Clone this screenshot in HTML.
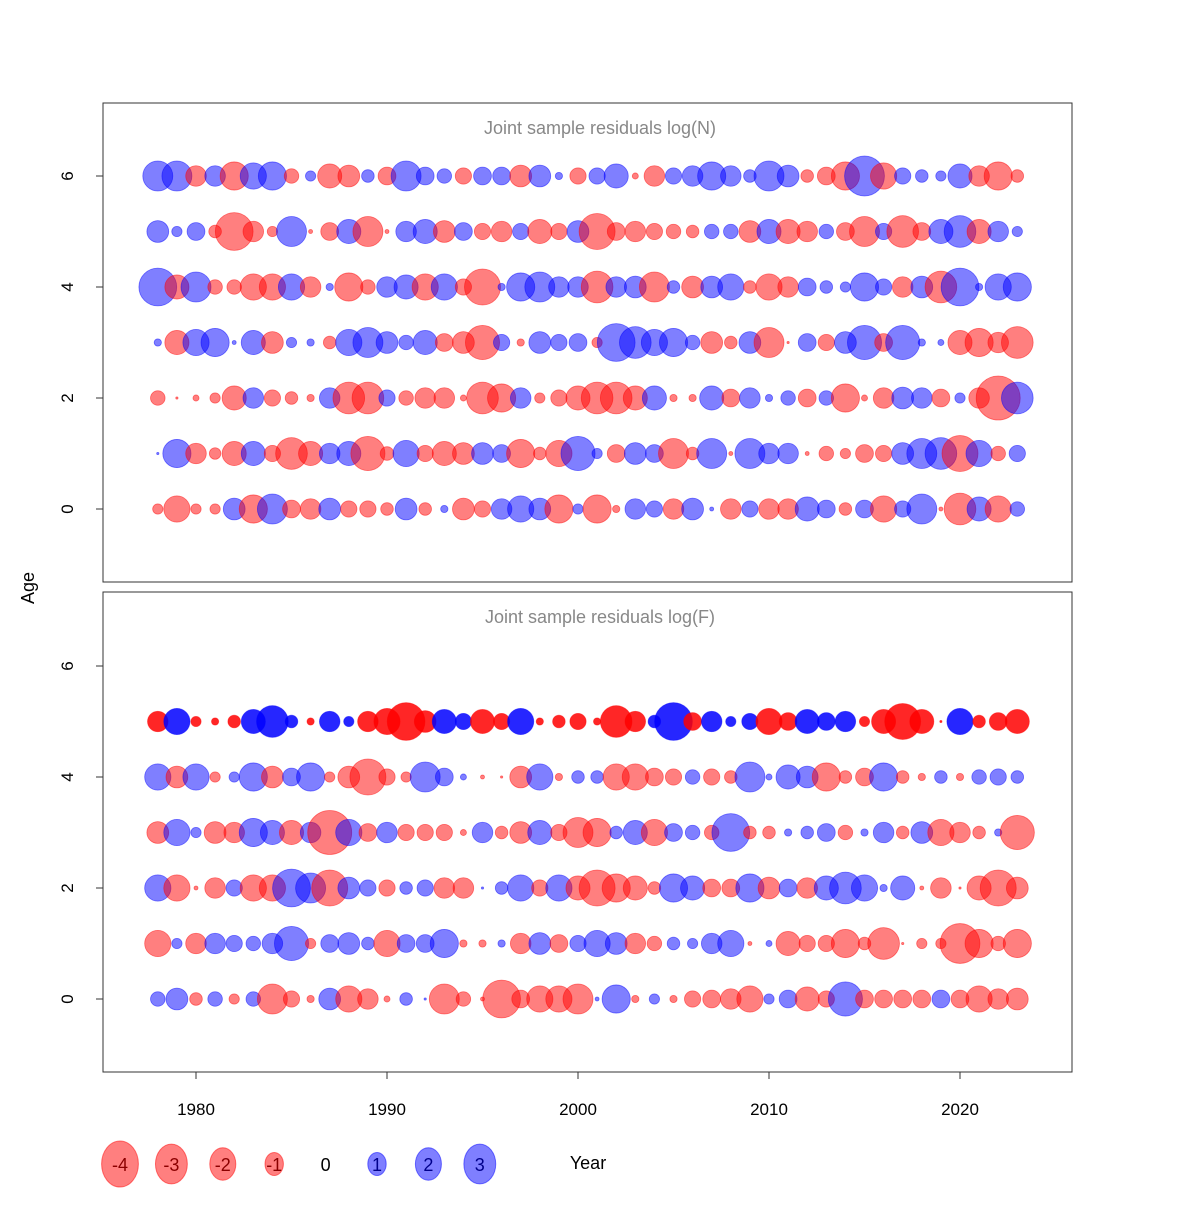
<!DOCTYPE html>
<html><head><meta charset="utf-8"><style>
body{margin:0;background:#fff}
svg text{font-family:"Liberation Sans",sans-serif}
</style></head><body>
<svg id="chart" width="1200" height="1200" viewBox="0 0 1200 1200" xmlns="http://www.w3.org/2000/svg">
<rect width="1200" height="1200" fill="#fff"/>
<g id="panels"></g>
<text x="0" y="0" transform="translate(34,588) rotate(-90)" text-anchor="middle" font-size="18">Age</text>
<text x="588" y="1169" text-anchor="middle" font-size="18">Year</text>
</svg>
<script>
const years = [];
for (let y = 1978; y <= 2023; y++) years.push(y);
const xTicks = [1980, 1990, 2000, 2010, 2020];
const yTicks = [0, 2, 4, 6];
const legendValues = [-4, -3, -2, -1, 0, 1, 2, 3];

const nAge0=[-0.2,-1.3,-0.2,-0.2,0.9,-1.5,1.7,-0.6,-0.8,0.9,-0.5,-0.5,-0.3,0.9,-0.3,0.1,-0.9,-0.5,0.8,1.3,0.9,-1.5,0.2,-1.5,-0.1,0.8,0.5,-0.8,0.9,0.03,-0.8,0.5,-0.8,-0.8,1.1,0.6,-0.3,0.6,-1.3,0.5,1.7,-0.03,-1.9,1.1,-1.3,0.4];
const nAge1=[0.01,1.5,-0.8,-0.25,-1.1,1.1,-0.5,-1.9,-1.1,0.8,1.1,-2.2,-0.35,1.3,-0.5,-1.1,-0.9,0.9,0.6,-1.5,-0.3,-1.3,2.2,0.2,-0.6,0.9,0.6,-1.7,-0.3,1.7,-0.03,1.7,0.8,0.8,-0.03,-0.4,-0.2,-0.6,-0.5,0.9,1.7,1.9,-2.45,1.3,-0.4,0.5];
const nAge2=[-0.4,-0.01,-0.07,-0.2,-1.1,0.8,-0.5,-0.3,-0.1,0.8,-1.9,-1.9,0.5,-0.4,-0.8,-0.8,-0.07,-1.9,-1.5,0.8,-0.2,-0.5,-1.1,-1.9,-1.9,-1.1,1.1,-0.1,-0.1,1.1,-0.6,0.8,0.1,0.4,-0.6,0.4,-1.5,-0.07,-0.8,0.9,0.8,-0.6,0.2,-0.8,-3.66,1.9];
const nAge3=[0.1,-1.1,1.3,1.5,0.03,1.1,-0.9,0.2,0.1,-0.3,1.3,1.7,0.9,0.4,1.1,-0.6,-0.9,-2.2,0.5,-0.1,0.9,0.5,0.6,-0.2,2.7,1.9,1.3,1.5,0.4,-0.9,-0.3,0.9,-1.7,-0.01,0.6,-0.5,0.9,2.2,-0.6,2.2,0.1,0.07,-1.1,-1.5,-0.8,-1.9];
const nAge4=[2.7,-1.1,1.7,-0.4,-0.4,-1.3,-1.3,1.3,-0.8,0.1,-1.5,-0.4,0.8,1.1,-1.3,1.3,-0.5,-2.45,0.1,1.5,1.7,0.8,0.8,-1.9,0.8,0.9,-1.7,0.3,-0.9,0.9,1.3,-0.3,-1.3,-0.8,0.6,0.3,0.2,1.5,0.5,-0.8,0.9,-1.9,2.7,0.1,1.3,1.5];
const nAge5=[0.9,0.2,0.6,-0.3,-2.7,-0.8,-0.2,1.7,-0.03,-0.6,1.1,-1.7,-0.03,0.8,1.1,-0.9,0.6,-0.5,-0.8,0.5,-1.1,-0.5,0.9,-2.45,-0.6,-0.8,-0.5,-0.4,-0.3,0.4,0.4,-0.9,1.1,-1.1,-0.8,0.4,-0.6,-1.7,0.5,-1.9,-0.6,1.1,1.9,-1.1,0.8,0.2];
const nAge6=[1.7,1.7,-0.8,0.8,-1.5,1.3,1.5,-0.4,0.2,-1.1,-0.9,0.3,-0.6,1.7,0.6,0.4,-0.5,0.6,0.6,-0.9,0.9,0.1,-0.5,0.5,1.1,-0.07,-0.8,0.5,0.8,1.5,0.8,0.3,1.7,0.9,-0.3,-0.6,-1.5,3.0,-1.3,0.5,0.3,0.2,1.1,-0.8,-1.5,-0.3];

const fAge0=[0.4,0.9,-0.3,0.4,-0.2,0.4,-1.7,-0.5,-0.1,0.9,-1.3,-0.8,-0.07,0.3,0.01,-1.7,-0.4,-0.03,-2.7,-0.6,-1.3,-1.3,-1.7,0.03,1.5,-0.1,0.2,-0.1,-0.5,-0.6,-0.8,-1.3,0.2,0.6,-1.1,-0.5,2.2,-0.6,-0.6,-0.6,-0.6,0.6,-0.6,-1.3,-0.8,-0.9];
const fAge1=[-1.3,0.2,-0.8,0.8,0.5,0.4,0.8,2.2,-0.2,0.6,0.9,0.3,-1.3,0.6,0.6,1.5,-0.1,-0.1,0.1,-0.8,0.9,-0.6,0.5,1.3,0.9,-0.8,-0.4,0.3,0.2,0.8,1.3,-0.03,0.07,-1.1,-0.5,-0.5,-1.5,-0.3,-1.9,-0.01,-0.2,-0.2,-3.0,-1.5,-0.4,-1.5];
const fAge2=[1.3,-1.3,-0.03,-0.8,0.5,-1.3,-1.3,2.7,1.7,-2.45,0.9,0.5,-0.5,0.3,0.5,-0.8,-0.8,0.01,0.3,1.3,-0.5,1.3,-1.1,-2.45,-1.5,-1.1,-0.3,1.5,1.1,-0.6,-0.6,1.5,-0.9,0.6,-0.8,1.1,1.9,1.3,0.1,1.1,-0.03,-0.8,-0.01,-1.1,-2.45,-0.9];
const fAge3=[-0.9,1.3,0.2,-0.9,-0.8,1.5,1.1,-1.1,0.8,-3.66,1.3,-0.6,0.8,-0.5,-0.5,-0.5,-0.07,0.8,-0.3,-0.9,1.1,-0.5,-1.7,-1.5,0.3,1.1,-1.3,0.6,0.4,-0.4,2.7,-0.3,-0.3,0.1,0.3,0.6,-0.4,0.1,0.8,-0.3,0.9,-1.3,-0.8,-0.3,0.1,-2.2];
const fAge4=[1.3,-0.9,1.3,-0.2,0.2,1.5,-0.9,0.6,1.5,-0.2,-0.9,-2.45,-0.5,-0.2,1.7,0.6,0.07,-0.03,-0.01,-0.9,1.3,-0.1,0.3,0.3,-1.3,-1.3,-0.6,-0.5,0.4,-0.5,-0.3,1.7,0.07,1.1,0.9,-1.5,-0.3,-0.6,1.5,-0.3,-0.1,0.3,-0.1,0.4,0.5,0.3];
const fAge5=[-0.8,1.3,-0.2,-0.1,-0.3,1.1,1.9,0.3,-0.1,0.8,0.2,-0.8,-1.3,-2.7,-0.9,1.1,0.5,-1.1,-0.5,1.3,-0.1,-0.3,-0.5,-0.1,-1.9,-0.8,0.3,2.7,-0.6,0.8,0.2,0.5,-1.3,-0.6,1.1,0.6,0.8,-0.2,-1.1,-2.45,-1.1,-0.01,1.3,-0.3,-0.6,-1.1];

const panels = [
  {name:'log-n', title:'Joint sample residuals log(N)', top:103, bottom:582, age0:509, rows:[nAge0,nAge1,nAge2,nAge3,nAge4,nAge5,nAge6], solidRow:-1},
  {name:'log-f', title:'Joint sample residuals log(F)', top:592, bottom:1072, age0:999, rows:[fAge0,fAge1,fAge2,fAge3,fAge4,fAge5], solidRow:5}
];
const NS='http://www.w3.org/2000/svg';
const svg=document.getElementById('panels');
const L=103,R=1072;
const xScale=yr=>196+(yr-1980)*19.1;
const ageStep=55.5;
const rScale=v=>11.5*Math.sqrt(Math.abs(v));
function mk(tag,attrs,parent){const e=document.createElementNS(NS,tag);for(const k in attrs)e.setAttribute(k,attrs[k]);(parent||svg).appendChild(e);return e;}

panels.forEach((p,pi)=>{
  const g=mk('g',{});
  
  
  const yScale=a=>p.age0-a*ageStep;
  const box=mk('rect',{x:L,y:p.top,width:R-L,height:p.bottom-p.top,fill:'none',stroke:'#333','stroke-width':1},g);
  
  
  const t=mk('text',{x:600,y:p.top+31,'text-anchor':'middle','font-size':18,fill:'#888'},g);
  t.textContent=p.title;
  
  
  yTicks.forEach(a=>{
    const y=yScale(a);
    const tk=mk('line',{x1:L,x2:L-7,y1:y,y2:y,stroke:'#333'},g);
    
    
    const lb=mk('text',{x:0,y:0,transform:`translate(73,${y}) rotate(-90)`,'text-anchor':'middle','font-size':17},g);
    lb.textContent=a;
    
    
  });
  p.rows.forEach((row,age)=>{
    const solid = age===p.solidRow;
    row.forEach((v,i)=>{
      const r=rScale(v);
      const pos=v>=0;
      const c=mk('circle',{cx:xScale(years[i]),cy:yScale(age),r:r,
        fill:pos?(solid?'rgba(0,0,255,0.85)':'rgba(0,0,255,0.5)'):(solid?'rgba(255,0,0,0.85)':'rgba(255,0,0,0.5)'),
        stroke:pos?'rgba(0,0,255,0.5)':'rgba(255,0,0,0.5)','stroke-width':0.8},g);
      
      
    });
  });
});
xTicks.forEach(yr=>{
  const x=xScale(yr);
  const tk=mk('line',{x1:x,x2:x,y1:1072,y2:1079,stroke:'#333'});
  
  
  const lb=mk('text',{x:x,y:1115,'text-anchor':'middle','font-size':17});
  lb.textContent=yr;
  
  
});
mk('line',{x1:196,x2:960,y1:1072,y2:1072,stroke:'#333'});
const lg=mk('g',{});


legendValues.forEach((v,i)=>{
  const x=120+i*51.4, y=1164;
  if(v!==0){
    const r=rScale(v);
    const e=mk('ellipse',{cx:x,cy:y,rx:r*0.8,ry:r,fill:v>0?'rgba(0,0,255,0.5)':'rgba(255,0,0,0.5)',stroke:v>0?'rgba(0,0,255,0.5)':'rgba(255,0,0,0.5)'},lg);
    
    
  }
  const t=mk('text',{x:x,y:y+7,'text-anchor':'middle','font-size':18,fill:v>0?'#00008b':(v<0?'#8b0000':'#000')},lg);
  t.textContent=v;
  
  
});
</script>
</body></html>
